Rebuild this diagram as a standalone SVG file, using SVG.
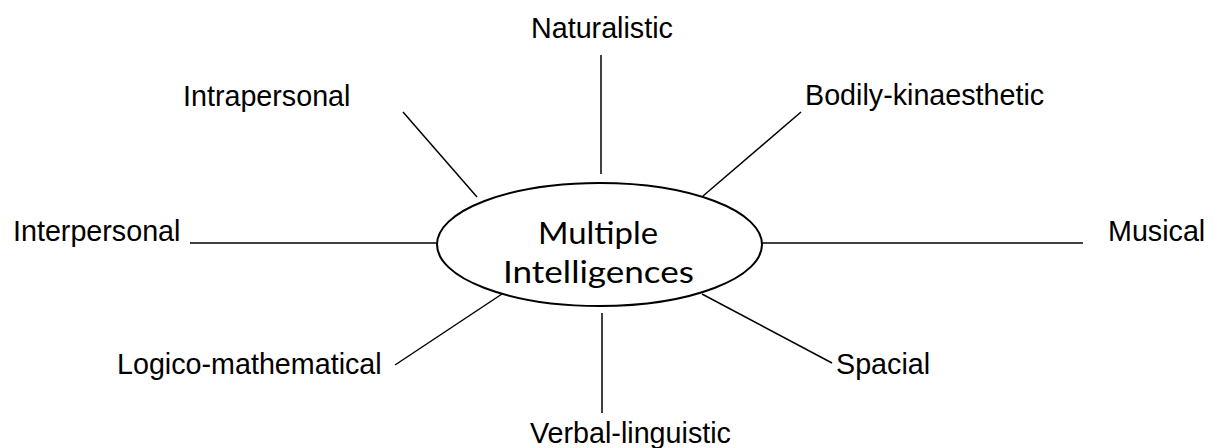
<svg xmlns="http://www.w3.org/2000/svg" width="1213" height="448" viewBox="0 0 1213 448">
<style>
.lbl{font-family:"Liberation Sans",Arial,sans-serif;font-size:28.7px;fill:#000}
.ctr{font-family:"Lato","Liberation Sans",sans-serif;font-weight:400;font-size:30px;fill:#000}
.conn line{stroke:#000;stroke-width:1.5}
</style>
<rect width="1213" height="448" fill="#fff"/>
<g id="connectors" class="conn">
<line x1="601" y1="55" x2="601" y2="174"/>
<line x1="403" y1="112" x2="477" y2="197"/>
<line x1="801" y1="112" x2="703" y2="196"/>
<line x1="190" y1="243" x2="437" y2="243"/>
<line x1="762" y1="243" x2="1083" y2="243"/>
<line x1="502" y1="294" x2="395" y2="365"/>
<line x1="702" y1="294" x2="832" y2="363"/>
<line x1="602" y1="313" x2="602" y2="413"/>
</g>
<g id="center">
<ellipse cx="599.5" cy="244.5" rx="162.5" ry="61.5" fill="#fff" stroke="#000" stroke-width="2"/>
<text class="ctr" x="538" y="244" textLength="120" lengthAdjust="spacingAndGlyphs">Multiple</text>
<text class="ctr" x="503" y="283" textLength="191" lengthAdjust="spacingAndGlyphs">Intelligences</text>
</g>
<g id="naturalistic"><text class="lbl" x="531" y="38">Naturalistic</text></g>
<g id="intrapersonal"><text class="lbl" x="183" y="106">Intrapersonal</text></g>
<g id="bodily"><text class="lbl" x="805" y="105">Bodily-kinaesthetic</text></g>
<g id="interpersonal"><text class="lbl" x="13" y="241">Interpersonal</text></g>
<g id="musical"><text class="lbl" x="1108" y="241">Musical</text></g>
<g id="logico"><text class="lbl" x="117" y="374">Logico-mathematical</text></g>
<g id="spacial"><text class="lbl" x="836" y="374">Spacial</text></g>
<g id="verbal"><text class="lbl" x="530" y="443">Verbal-linguistic</text></g>
</svg>
